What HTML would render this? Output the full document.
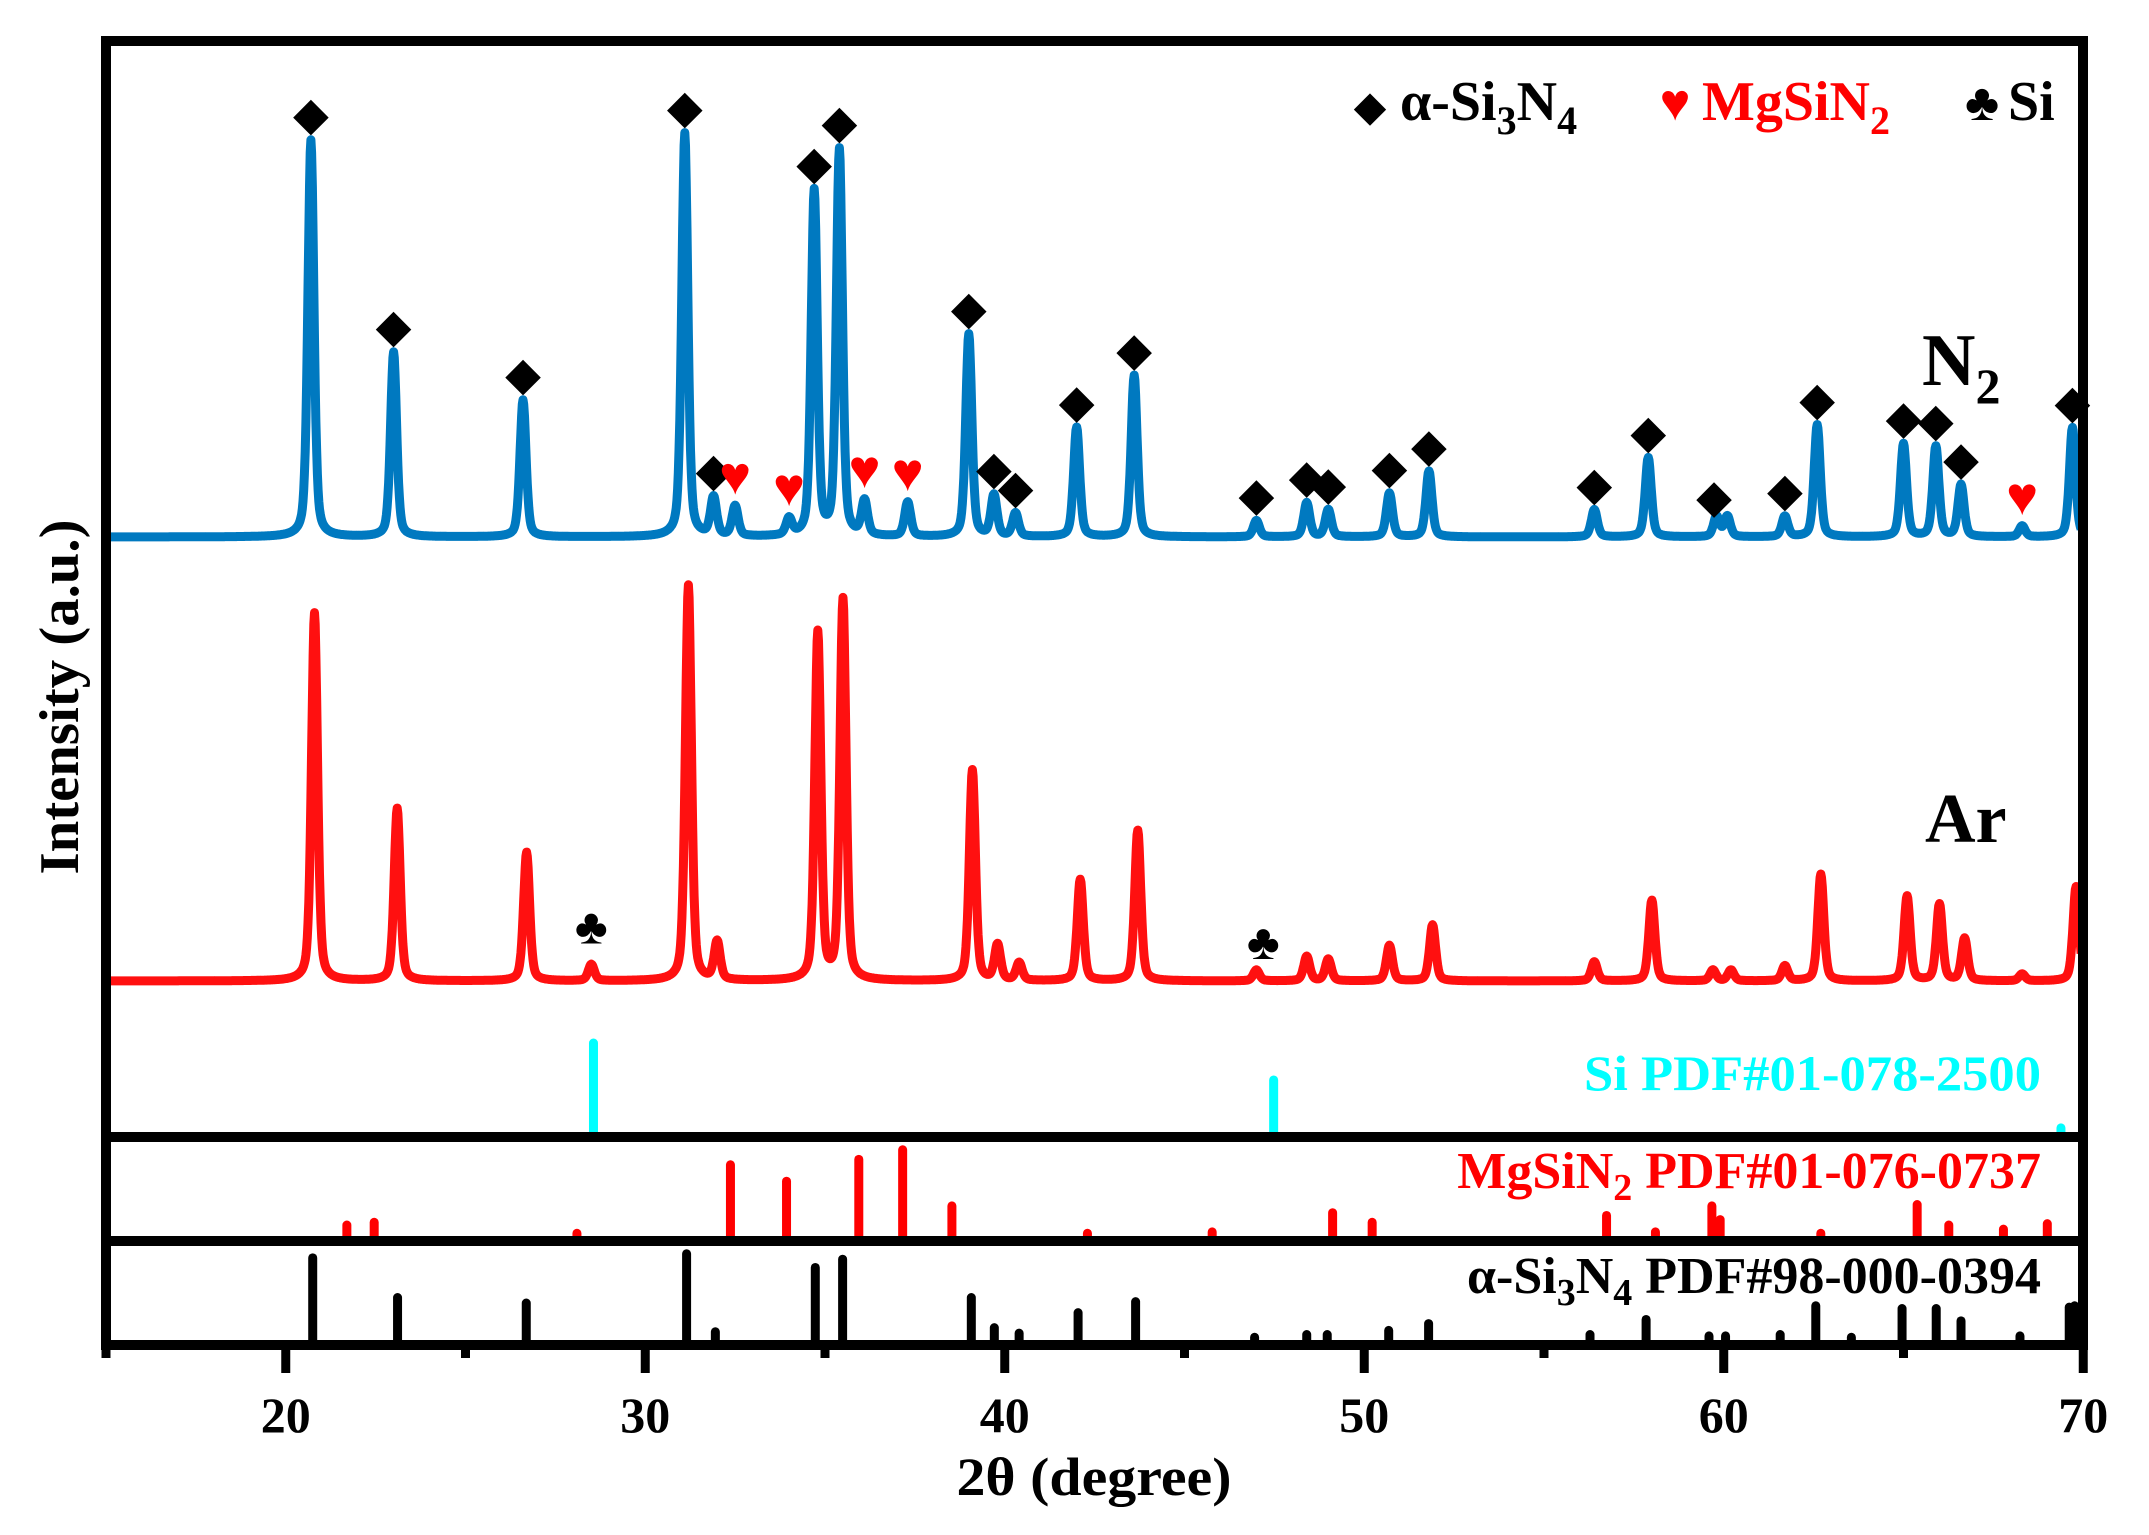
<!DOCTYPE html>
<html><head><meta charset="utf-8"><style>
html,body{margin:0;padding:0;background:#fff;}
svg{display:block;}
text{font-family:"Liberation Serif",serif;font-weight:bold;}
</style></head><body>
<svg id="chart" width="2149" height="1535" viewBox="0 0 2149 1535">
<g id="curves"></g><g id="sticks"></g><g id="markers"></g>
<g id="frame" fill="none" stroke="#000" stroke-width="10">
<rect x="106" y="41" width="1977" height="1304"/>
<line x1="106" y1="1137" x2="2083" y2="1137"/>
<line x1="106" y1="1241" x2="2083" y2="1241"/>
</g>
<g id="ticks"></g>
<text x="1094" y="1495" font-size="54" text-anchor="middle" textLength="275" lengthAdjust="spacingAndGlyphs">2θ (degree)</text>
<text transform="translate(78,697) rotate(-90)" font-size="56" text-anchor="middle" textLength="355" lengthAdjust="spacingAndGlyphs">Intensity (a.u.)</text>
<text x="1922" y="385" font-size="74">N<tspan font-size="50" dy="18">2</tspan></text>
<text x="1925" y="842" font-size="70">Ar</text>
<g font-size="56">
<text x="1370" y="120" font-size="40" text-anchor="middle">◆</text>
<text x="1400" y="120">α-Si<tspan font-size="40" dy="14">3</tspan><tspan dy="-14">N</tspan><tspan font-size="40" dy="14">4</tspan></text>
<text x="1675" y="120" font-size="52" fill="#ff0000" text-anchor="middle">♥</text>
<text x="1702" y="120" fill="#ff0000">MgSiN<tspan font-size="40" dy="14">2</tspan></text>
<text x="1982" y="120" font-size="52" text-anchor="middle">♣</text>
<text x="2008" y="120">Si</text>
</g>
<text x="2041" y="1090" font-size="50" fill="#00ffff" text-anchor="end" textLength="457" lengthAdjust="spacingAndGlyphs">Si PDF#01-078-2500</text>
<text x="2041" y="1188" font-size="52" fill="#ff0000" text-anchor="end">MgSiN<tspan font-size="38" dy="12">2</tspan><tspan dy="-12"> PDF#01-076-0737</tspan></text>
<text x="2041" y="1293" font-size="52" text-anchor="end">α-Si<tspan font-size="38" dy="12">3</tspan><tspan dy="-12">N</tspan><tspan font-size="38" dy="12">4</tspan><tspan dy="-12"> PDF#98-000-0394</tspan></text>
</svg>
<script>
// ---- data ----
const n2Pos=[20.7,23.0,26.6,31.1,31.9,32.5,34.0,34.7,35.4,36.1,37.3,39.0,39.7,40.3,42.0,43.6,47.0,48.4,49.0,50.7,51.8,56.4,57.9,59.8,60.1,61.7,62.6,65.0,65.9,66.6,68.3,69.7];
const n2Int=[290,135,100,295,28,22,12,252,282,25,25,148,30,17,80,118,12,25,20,32,48,20,58,15,15,15,82,68,66,38,8,80];
const arPos=[20.8,23.1,26.7,28.5,31.2,32.0,34.8,35.5,39.1,39.8,40.4,42.1,43.7,47.0,48.4,49.0,50.7,51.9,56.4,58.0,59.7,60.2,61.7,62.7,65.1,66.0,66.7,68.3,69.8];
const arInt=[269,126,94,12,289,28,254,278,154,26,13,74,110,8,18,16,26,41,14,59,8,8,11,78,62,56,31,5,69];
const siRefPos=[28.56,47.48,69.38];
const siRefInt=[65,38,3];
const mgRefPos=[21.7,22.46,28.1,32.37,33.93,35.94,37.16,38.53,42.3,45.77,49.12,50.22,56.74,58.1,59.67,59.9,62.7,65.38,66.26,67.78,69.0];
const mgRefInt=[8,10,2,52,40,56,63,22,2,3,17,10,15,3,22,12,2,23,8,5,9];
const sn3RefPos=[20.75,23.11,26.69,31.15,31.95,34.73,35.49,39.07,39.71,40.4,42.04,43.64,46.95,48.4,48.97,50.68,51.79,56.28,57.84,59.59,60.05,61.57,62.56,63.55,64.96,65.91,66.6,68.24,69.61,69.76];
const sn3RefInt=[60,31,27,63,6,53,59,31,9,5,20,28,2,4,4,7,12,4,15,3,3,4,25,2,23,23,14,3,24,25];
const diamondPos=[20.71,23.03,26.58,31.07,31.87,34.65,35.41,38.95,39.68,40.32,41.96,43.52,46.87,48.36,48.97,50.57,51.67,56.17,57.69,59.48,61.5,62.49,64.85,65.8,66.52,69.53];
const heartPos=[32.56,33.96,36.02,37.24,68.08];
const clubPos=[28.6,47.44];
const xTicks=[20,30,40,50,60,70];
const xMinor=[15,25,35,45,55,65];
// ---- axes ----
const X0=106,PX=35.95,K=1.369;
const xs=d=>X0+(d-15)*PX;
const N2BASE=537, ARBASE=981;
const yN2=v=>N2BASE-v*K, yAr=v=>ARBASE-v*K;
const NS='http://www.w3.org/2000/svg';
function mk(tag,attrs,parent){const e=document.createElementNS(NS,tag);for(const k in attrs)e.setAttribute(k,attrs[k]);parent.appendChild(e);return e;}
function profile(pos,ints,d){let s=0;const w=0.1;for(let i=0;i<pos.length;i++){const t=(d-pos[i])/w;s+=ints[i]*(0.6*Math.exp(-0.693*t*t)+0.4/(1+t*t));}return s;}
function localMax(pos,ints,d){let best={d:d,v:profile(pos,ints,d)};for(let e=d-0.25;e<=d+0.25;e+=0.01){const v=profile(pos,ints,e);if(v>best.v)best={d:e,v:v};}return best;}
const curves=document.getElementById('curves');
function drawCurve(pos,ints,yf,color,name){let p='';for(let d=15.1;d<=69.95;d+=0.02){p+=(p?'L':'M')+xs(d).toFixed(1)+','+yf(profile(pos,ints,d)).toFixed(1);}
const el=mk('path',{d:p,fill:'none',stroke:color,'stroke-width':9,'stroke-linejoin':'round'},curves);

}
drawCurve(n2Pos,n2Int,yN2,'#0079c0','n2-pattern');
drawCurve(arPos,arInt,yAr,'#ff1010','ar-pattern');
const sticks=document.getElementById('sticks');
function drawSticks(pos,ints,base,color,w,name){for(let i=0;i<pos.length;i++){const l=mk('line',{x1:xs(pos[i]),x2:xs(pos[i]),y1:base,y2:base-ints[i]*K,stroke:color,'stroke-width':w,'stroke-linecap':'round'},sticks);

}}
drawSticks(siRefPos,siRefInt,1132,'#00ffff',9,'si-ref-stick');
drawSticks(mgRefPos,mgRefInt,1236,'#ff0000',9,'mgsin2-ref-stick');
drawSticks(sn3RefPos,sn3RefInt,1340,'#000',9,'si3n4-ref-stick');
const markers=document.getElementById('markers');
function drawMarks(pos,prof,ints,yf,glyph,color,size,off,name){for(const d of pos){const m=localMax(prof,ints,d);const y=yf(m.v)-off;const t=mk('text',{x:xs(m.d),y:y+size*0.35,'font-size':size,fill:color,'text-anchor':'middle'},markers);t.textContent=glyph;

}}
drawMarks(diamondPos,n2Pos,n2Int,yN2,'◆','#000',44,26,'diamond-marker');
drawMarks(heartPos,n2Pos,n2Int,yN2,'♥','#ff0000',54,30,'heart-marker');
drawMarks(clubPos,arPos,arInt,yAr,'♣','#000',50,38,'club-marker');
const ticks=document.getElementById('ticks');
for(const t of xTicks){const l=mk('line',{x1:xs(t),x2:xs(t),y1:1345,y2:1373,stroke:'#000','stroke-width':9},ticks);


const tx=mk('text',{x:xs(t),y:1432,'font-size':50,'text-anchor':'middle'},ticks);tx.textContent=t;

}
for(const t of xMinor){const l=mk('line',{x1:xs(t),x2:xs(t),y1:1345,y2:1358,stroke:'#000','stroke-width':9},ticks);

}
</script>
</body></html>
